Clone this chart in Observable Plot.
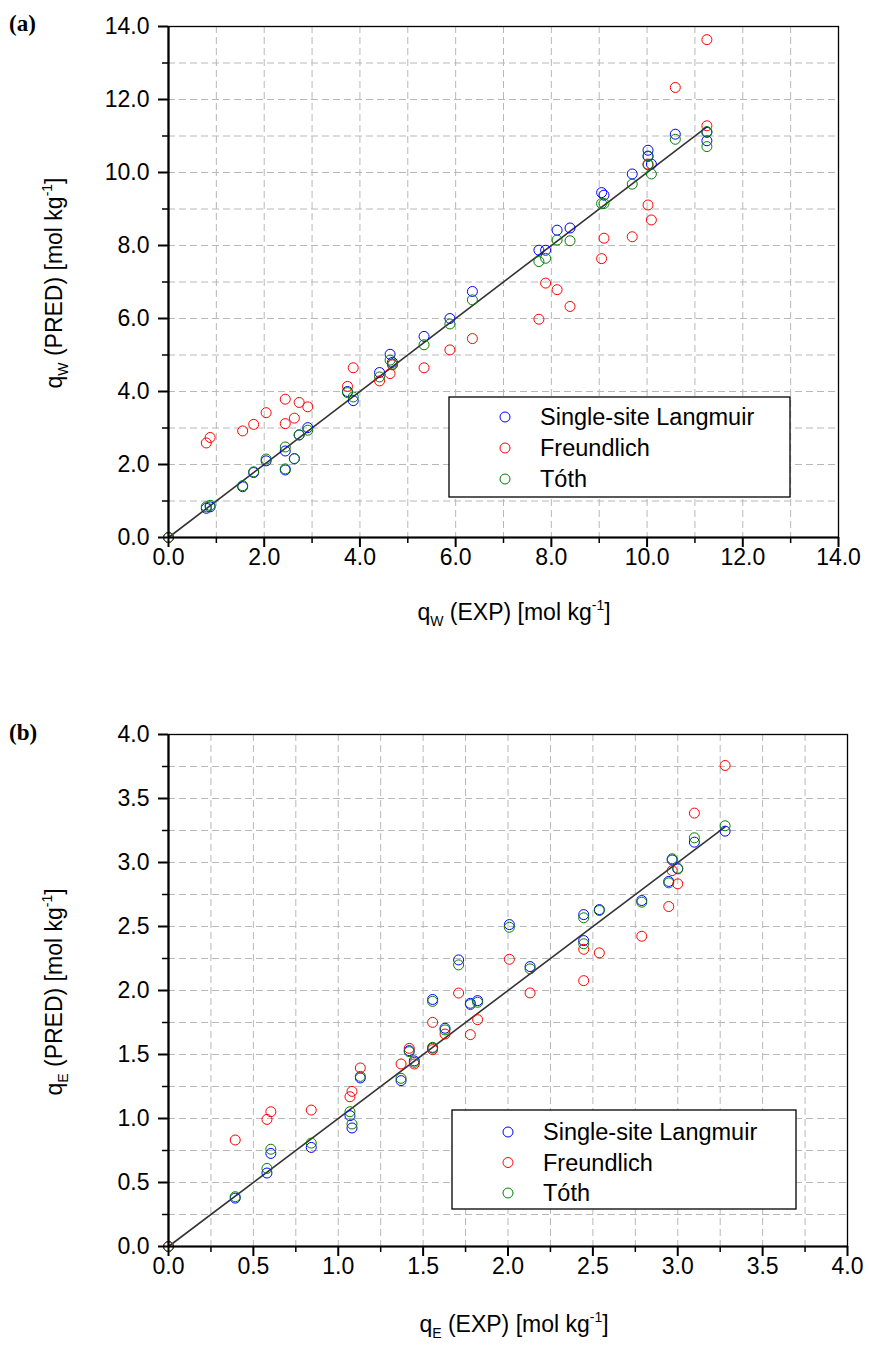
<!DOCTYPE html>
<html><head><meta charset="utf-8">
<script src="https://cdn.jsdelivr.net/npm/d3@7"></script>
<script src="https://cdn.jsdelivr.net/npm/@observablehq/plot@0.6"></script>
<style>
body{margin:0;background:#fff}
#wrap{position:relative;width:869px;height:1367px;overflow:hidden}
#wrap svg{position:absolute;left:0}
</style></head><body><div id="wrap"></div>
<script>
// ---------- data ----------
const seriesNames = ["Single-site Langmuir", "Freundlich", "Tóth"];
const seriesColors = ["#0000FF", "#FF0000", "#008000"];

// panel (a) : water
const expW  = [0, 0.79, 0.87, 1.55, 1.78, 2.04, 2.44, 2.44, 2.63, 2.73, 2.91, 3.74, 3.86, 4.41, 4.63, 4.68, 5.34, 5.88, 6.35, 7.74, 7.88, 8.12, 8.39, 9.05, 9.10, 9.69, 10.02, 10.02, 10.09, 10.59, 11.25, 11.25];
const langW = [0, 0.80, 0.84, 1.39, 1.78, 2.10, 2.37, 1.85, 2.16, 2.81, 3.01, 4.00, 3.75, 4.52, 5.02, 4.80, 5.51, 6.00, 6.74, 7.87, 7.87, 8.42, 8.48, 9.45, 9.38, 9.96, 10.61, 10.45, 10.23, 11.05, 11.10, 10.87];
const freW  = [0, 2.59, 2.74, 2.92, 3.10, 3.42, 3.79, 3.12, 3.27, 3.70, 3.58, 4.14, 4.65, 4.29, 4.49, 4.73, 4.65, 5.14, 5.45, 5.98, 6.97, 6.79, 6.33, 7.64, 8.20, 8.24, 9.11, 10.23, 8.70, 12.33, 13.64, 11.28];
const tothW = [0, 0.84, 0.88, 1.42, 1.80, 2.15, 2.48, 1.88, 2.16, 2.81, 2.94, 3.97, 3.85, 4.40, 4.86, 4.75, 5.28, 5.85, 6.51, 7.56, 7.65, 8.15, 8.13, 9.15, 9.15, 9.68, 10.44, 10.21, 9.96, 10.91, 11.12, 10.71];

// panel (b) : ethanol
const expE  = [0, 0.393, 0.58, 0.603, 0.841, 1.069, 1.081, 1.13, 1.37, 1.418, 1.448, 1.556, 1.556, 1.629, 1.709, 1.778, 1.821, 2.008, 2.13, 2.446, 2.446, 2.538, 2.788, 2.947, 2.967, 3.0, 3.098, 3.279];
const langE = [0, 0.378, 0.574, 0.727, 0.774, 1.022, 0.926, 1.317, 1.296, 1.53, 1.45, 1.55, 1.93, 1.705, 2.239, 1.90, 1.921, 2.515, 2.187, 2.593, 2.39, 2.632, 2.703, 2.852, 3.02, 2.95, 3.159, 3.245];
const freE  = [0, 0.832, 0.993, 1.053, 1.066, 1.17, 1.212, 1.395, 1.426, 1.548, 1.426, 1.538, 1.751, 1.66, 1.98, 1.655, 1.772, 2.244, 1.981, 2.322, 2.077, 2.294, 2.424, 2.656, 2.937, 2.833, 3.386, 3.758];
const tothE = [0, 0.389, 0.61, 0.76, 0.808, 1.053, 0.957, 1.329, 1.314, 1.522, 1.439, 1.556, 1.915, 1.692, 2.20, 1.89, 1.908, 2.494, 2.169, 2.568, 2.365, 2.625, 2.69, 2.841, 3.029, 2.955, 3.193, 3.287];

// axis ticks
const majorW = [0, 2, 4, 6, 8, 10, 12, 14];
const minorW = [1, 3, 5, 7, 9, 11, 13];
const majorE = [0, 0.5, 1, 1.5, 2, 2.5, 3, 3.5, 4];
const minorE = [0.25, 0.75, 1.25, 1.75, 2.25, 2.75, 3.25, 3.75];

// ---------- drawing ----------
const FONT = '"Liberation Sans", Arial, sans-serif';
const fmt = d3.format(".1f");
const wrap = document.getElementById("wrap");

function makePanel(cfg) {
  const rows = seriesNames.flatMap((s, i) => cfg.xs.map((x, j) => ({x, y: cfg.ys[i][j], s})));
  const m = d3.max(cfg.xs);
  const grid = [...cfg.major, ...cfg.minor].sort(d3.ascending);
  const gridStyle = {stroke: "#b8b8b8", strokeOpacity: 1, strokeWidth: 1, strokeDasharray: "7,4"};
  const svg = Plot.plot({
    width: 869, height: cfg.height,
    marginLeft: cfg.ml, marginRight: cfg.mr, marginTop: cfg.mt, marginBottom: cfg.mb,
    style: {fontFamily: FONT, fontSize: "23px", color: "#000", background: "transparent"},
    x: {domain: cfg.domain},
    y: {domain: cfg.domain},
    color: {domain: seriesNames, range: seriesColors},
    marks: [
      Plot.gridX(grid, gridStyle),
      Plot.gridY(grid, gridStyle),
      Plot.line([[0, 0], [m, m]], {stroke: "#333", strokeWidth: 1.6}),
      Plot.dot(rows, {x: "x", y: "y", stroke: "s", r: 5, strokeWidth: 1, fill: "none"}),
      Plot.frame({stroke: "#000", strokeWidth: 1.3}),
      Plot.ruleX([cfg.domain[0]], {strokeWidth: 2.2}),
      Plot.ruleY([cfg.domain[0]], {strokeWidth: 2.2}),
      Plot.axisX(cfg.major, {tickSize: 10, tickPadding: 1, tickFormat: fmt, strokeWidth: 2, fontSize: 23, label: null}),
      Plot.axisX(cfg.minor, {tickSize: 6, tickFormat: () => "", strokeWidth: 1.5, label: null}),
      Plot.axisY(cfg.major, {tickSize: 10, tickPadding: 9, tickFormat: fmt, strokeWidth: 2, fontSize: 23, label: null}),
      Plot.axisY(cfg.minor, {tickSize: 6, tickFormat: () => "", strokeWidth: 1.5, label: null})
    ]
  });
  svg.style.top = cfg.top + "px";
  const g = d3.select(svg).append("g").attr("font-family", FONT).attr("fill", "#000");

  // panel letter
  g.append("text").attr("x", 9).attr("y", cfg.letterY).attr("text-anchor", "start")
    .attr("font-family", '"Liberation Serif", "Times New Roman", serif')
    .attr("font-weight", "bold").attr("font-size", 23).text(cfg.letter);

  // axis titles
  function title(x, y, kind, rot) {
    const t = g.append("text").attr("font-size", 23).attr("text-anchor", "middle");
    if (rot) t.attr("transform", `translate(${x},${y}) rotate(-90)`);
    else t.attr("x", x).attr("y", y);
    t.append("tspan").text("q");
    t.append("tspan").attr("font-size", 14).attr("dy", 6).text(cfg.sub);
    t.append("tspan").attr("dy", -6).text(` (${kind}) [mol kg`);
    t.append("tspan").attr("font-size", 14).attr("dy", -10).text("-1");
    t.append("tspan").attr("dy", 10).text("]");
  }
  title(cfg.xTitle[0], cfg.xTitle[1], "EXP", false);
  title(cfg.yTitle[0], cfg.yTitle[1], "PRED", true);

  // legend
  const L = cfg.legend;
  const lg = g.append("g");
  lg.append("rect").attr("x", L.x).attr("y", L.y).attr("width", L.w).attr("height", L.h)
    .attr("fill", "#fff").attr("stroke", "#000").attr("stroke-width", 1.3);
  seriesNames.forEach((s, i) => {
    const cy = L.y + L.first + i * L.step;
    lg.append("circle").attr("cx", L.x + L.mx).attr("cy", cy).attr("r", 5)
      .attr("fill", "none").attr("stroke", seriesColors[i]).attr("stroke-width", 1);
    lg.append("text").attr("x", L.x + L.tx).attr("y", cy + 8).attr("text-anchor", "start")
      .attr("font-size", 23.5).text(s);
  });
  wrap.appendChild(svg);
}

makePanel({
  xs: expW, ys: [langW, freW, tothW], domain: [0, 14], major: majorW, minor: minorW,
  top: 0, height: 700, ml: 168, mr: 31, mt: 26, mb: 163,
  letter: "(a)", letterY: 31, sub: "W",
  xTitle: [514, 620], yTitle: [62, 283],
  legend: {x: 449, y: 397, w: 341, h: 100, mx: 56, tx: 91, first: 20, step: 31}
});
makePanel({
  xs: expE, ys: [langE, freE, tothE], domain: [0, 4], major: majorE, minor: minorE,
  top: 700, height: 667, ml: 168, mr: 22, mt: 34, mb: 121,
  letter: "(b)", letterY: 40, sub: "E",
  xTitle: [514, 632], yTitle: [62, 292],
  legend: {x: 452, y: 410, w: 344, h: 99, mx: 56, tx: 91, first: 22, step: 30.5}
});
</script></body></html>
